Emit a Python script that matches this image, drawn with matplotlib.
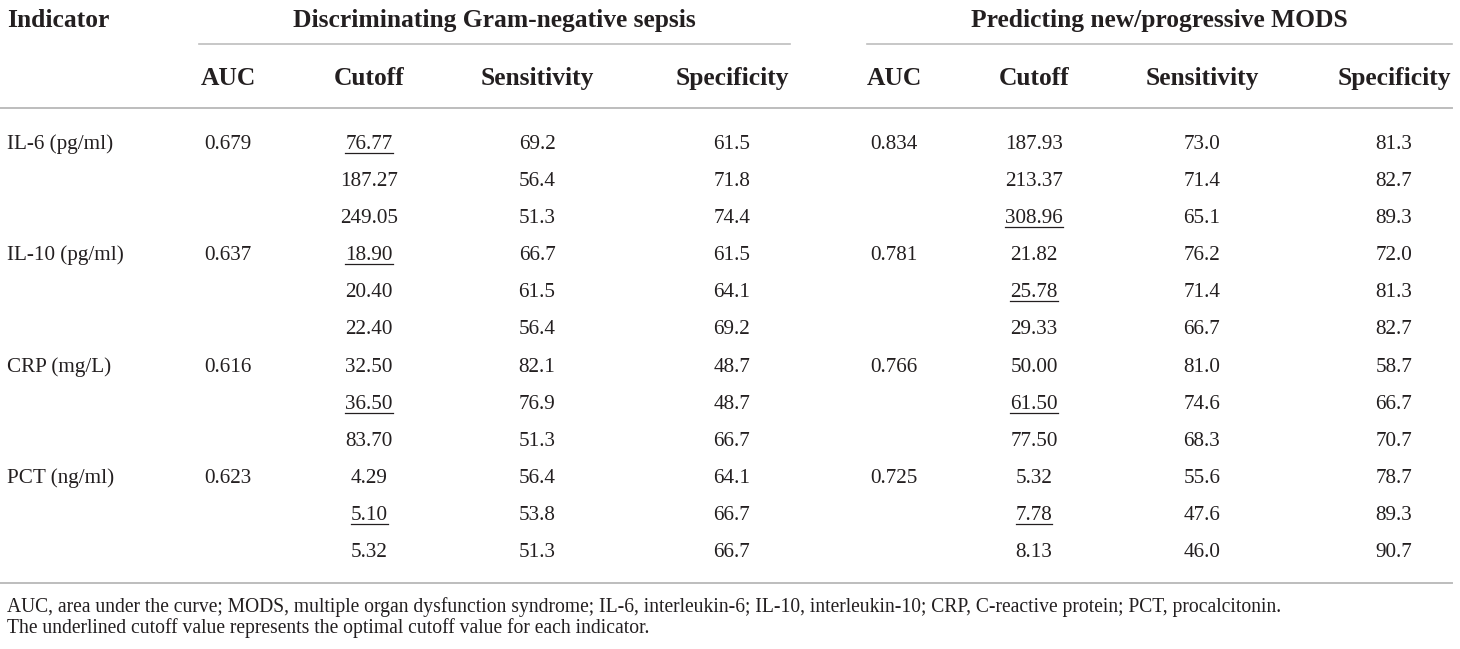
import matplotlib
matplotlib.use("Agg")
import matplotlib.pyplot as plt

plt.rcParams["font.family"] = ["Liberation Serif", "DejaVu Serif"]

INK = "#231f20"
RULE = "#bdbdbd"

indicators = ["IL-6 (pg/ml)", "IL-10 (pg/ml)", "CRP (mg/L)", "PCT (ng/ml)"]
group_titles = ["Discriminating Gram-negative sepsis", "Predicting new/progressive MODS"]
col_headers = ["AUC", "Cutoff", "Sensitivity", "Specificity"]

# Gram-negative sepsis
auc_gn = ["0.679", "0.637", "0.616", "0.623"]
cutoff_gn = [["76.77", "187.27", "249.05"],
             ["18.90", "20.40", "22.40"],
             ["32.50", "36.50", "83.70"],
             ["4.29", "5.10", "5.32"]]
sens_gn = [["69.2", "56.4", "51.3"],
           ["66.7", "61.5", "56.4"],
           ["82.1", "76.9", "51.3"],
           ["56.4", "53.8", "51.3"]]
spec_gn = [["61.5", "71.8", "74.4"],
           ["61.5", "64.1", "69.2"],
           ["48.7", "48.7", "66.7"],
           ["64.1", "66.7", "66.7"]]
optimal_gn = [0, 0, 1, 1]

# new/progressive MODS
auc_mods = ["0.834", "0.781", "0.766", "0.725"]
cutoff_mods = [["187.93", "213.37", "308.96"],
               ["21.82", "25.78", "29.33"],
               ["50.00", "61.50", "77.50"],
               ["5.32", "7.78", "8.13"]]
sens_mods = [["73.0", "71.4", "65.1"],
             ["76.2", "71.4", "66.7"],
             ["81.0", "74.6", "68.3"],
             ["55.6", "47.6", "46.0"]]
spec_mods = [["81.3", "82.7", "89.3"],
             ["72.0", "81.3", "82.7"],
             ["58.7", "66.7", "70.7"],
             ["78.7", "89.3", "90.7"]]
optimal_mods = [2, 1, 1, 1]

footnotes = [
    "AUC, area under the curve; MODS, multiple organ dysfunction syndrome; IL-6, interleukin-6; "
    "IL-10, interleukin-10; CRP, C-reactive protein; PCT, procalcitonin.",
    "The underlined cutoff value represents the optimal cutoff value for each indicator.",
]

W, H = 1460, 649
fig = plt.figure(figsize=(W / 100, H / 100), dpi=100)
ax = fig.add_axes([0, 0, 1, 1])
ax.set_xlim(0, W)
ax.set_ylim(H, 0)
ax.axis("off")

HEAD = 18.4
BODY = 15.2
NOTE = 14.1

groups = [
    dict(title=group_titles[0], x0=199, x1=790, cols=[228, 369, 537, 732],
         auc=auc_gn, cutoff=cutoff_gn, sens=sens_gn, spec=spec_gn, opt=optimal_gn),
    dict(title=group_titles[1], x0=867, x1=1452, cols=[894, 1034, 1202, 1394],
         auc=auc_mods, cutoff=cutoff_mods, sens=sens_mods, spec=spec_mods, opt=optimal_mods),
]

# header (baseline aligned)
ax.text(7, 27, "Indicator", fontsize=HEAD, fontweight="bold", color=INK,
        va="baseline", ha="left")
for g in groups:
    ax.text((g["x0"] + g["x1"]) / 2, 27, g["title"], fontsize=HEAD, fontweight="bold",
            color=INK, va="baseline", ha="center")
    ax.plot([g["x0"], g["x1"]], [44, 44], color=RULE, lw=1.2)
    for cx, h in zip(g["cols"], col_headers):
        ax.text(cx, 85, h, fontsize=HEAD, fontweight="bold", color=INK,
                va="baseline", ha="center")

ax.plot([0, 1452], [108, 108], color=RULE, lw=1.4)

row0, step = 149, 37.1
underlined = []
for i, name in enumerate(indicators):
    y_first = row0 + 3 * i * step
    ax.text(7, y_first, name, fontsize=BODY, color=INK, va="baseline", ha="left")
    for g in groups:
        cx = g["cols"]
        ax.text(cx[0], y_first, g["auc"][i], fontsize=BODY, color=INK,
                va="baseline", ha="center")
        for j in range(3):
            y = y_first + j * step
            t = ax.text(cx[1], y, g["cutoff"][i][j], fontsize=BODY, color=INK,
                        va="baseline", ha="center")
            if j == g["opt"][i]:
                underlined.append((t, y))
            ax.text(cx[2], y, g["sens"][i][j], fontsize=BODY, color=INK,
                    va="baseline", ha="center")
            ax.text(cx[3], y, g["spec"][i][j], fontsize=BODY, color=INK,
                    va="baseline", ha="center")

ax.plot([0, 1452], [583, 583], color=RULE, lw=1.4)

ax.text(7, 612, footnotes[0], fontsize=NOTE, color=INK, va="baseline", ha="left")
ax.text(7, 633, footnotes[1], fontsize=NOTE, color=INK, va="baseline", ha="left")

# underline the optimal cutoffs
renderer = fig.canvas.get_renderer()
inv = ax.transData.inverted()
for t, y in underlined:
    bb = t.get_window_extent(renderer)
    (xa, _), (xb, _) = inv.transform([[bb.x0, bb.y0], [bb.x1, bb.y1]])
    ax.plot([xa, xb], [y + 4, y + 4], color=INK, lw=0.9)

fig.savefig("out.png", dpi=100)
